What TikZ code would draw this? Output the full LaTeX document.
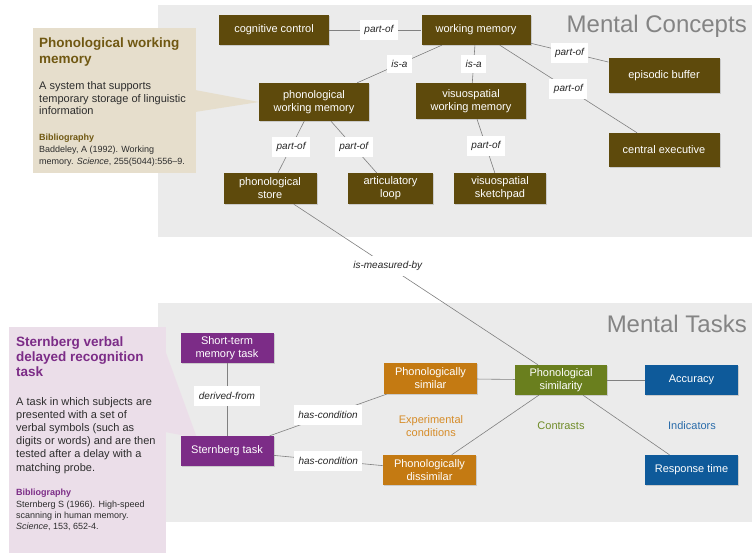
\documentclass[tikz,border=0pt]{standalone}
\usepackage{fontspec}
\setmainfont{Liberation Sans}
\usetikzlibrary{shadows}
\definecolor{panelc}{RGB}{235,235,235}
\definecolor{tanc}{RGB}{230,222,204}
\definecolor{pinkc}{RGB}{235,222,233}
\definecolor{conceptc}{RGB}{94,74,12}
\definecolor{taskc}{RGB}{124,44,135}
\definecolor{condc}{RGB}{196,122,18}
\definecolor{contrc}{RGB}{106,127,30}
\definecolor{indc}{RGB}{14,90,154}
\definecolor{linkc}{RGB}{128,128,128}
\definecolor{bodyc}{RGB}{45,45,45}
\definecolor{tantitle}{RGB}{112,88,18}
\definecolor{pinktitle}{RGB}{124,44,135}
\definecolor{condtext}{RGB}{214,140,40}
\definecolor{contrtext}{RGB}{112,140,40}
\definecolor{indtext}{RGB}{42,108,170}
\definecolor{headc}{RGB}{132,132,132}
\begin{document}
\begin{tikzpicture}[x=1pt,y=-1pt,
  sz/.style 2 args={minimum width=#1, minimum height=#2},
  box/.style={rectangle, inner sep=2pt, align=center, text=white,
    font=\fontsize{11}{13}\selectfont,
    drop shadow={shadow xshift=1pt, shadow yshift=-1.2pt, opacity=0.3}},
  concept/.style={box, fill=conceptc},
  taskbox/.style={box, fill=taskc},
  condbox/.style={box, fill=condc},
  contrbox/.style={box, fill=contrc},
  indbox/.style={box, fill=indc},
  lab/.style={fill=white, text=black!85, font=\fontsize{10}{12}\selectfont\itshape,
    inner xsep=4.5pt, inner ysep=0pt, minimum height=20pt},
  link/.style={draw=linkc, line width=0.6pt},
  ttl/.style={anchor=base west, inner sep=0pt, font=\fontsize{13.5}{16}\selectfont\bfseries},
  bodyt/.style={anchor=base west, inner sep=0pt, font=\fontsize{11}{13}\selectfont, text=bodyc},
  bibh/.style={anchor=base west, inner sep=0pt, font=\fontsize{9}{11}\selectfont\bfseries},
  cit/.style={anchor=base west, inner sep=0pt, font=\fontsize{9}{11}\selectfont, text=bodyc},
  grouplab/.style={align=center, inner sep=0pt, font=\fontsize{11}{13}\selectfont},
  heading/.style={anchor=base east, inner sep=0pt, font=\fontsize{24}{28}\selectfont, text=headc}]
\useasboundingbox (0,0) rectangle (752,553);
\fill[white] (0,0) rectangle (752,553);
% panels
\fill[panelc] (158,5) rectangle (752,237);
\fill[panelc] (158,303) rectangle (752,522);
% headings
\node[heading] (hc) at (747,33) {Mental Concepts};
\node[heading] (ht) at (747,332) {Mental Tasks};
% tan callout
\fill[tanc] (33,28) rectangle (196,173);
\fill[tanc] (195,90) -- (259,102) -- (195,112) -- cycle;
\node[ttl, text=tantitle] (ta1) at (39,47.5) {Phonological working};
\node[ttl, text=tantitle] (ta2) at (39,63.5) {memory};
\node[bodyt] (tb1) at (39,90) {A system that supports};
\node[bodyt] (tb2) at (39,102.5) {temporary storage of linguistic};
\node[bodyt] (tb3) at (39,115) {information};
\node[bibh, text=tantitle] (tbh) at (39,140.5) {Bibliography};
\node[cit] (tc1) at (39,152.5) {Baddeley, A (1992). Working};
\node[cit] (tc2) at (39,165) {memory. \textit{Science}, 255(5044):556–9.};
% pink callout
\fill[pinkc] (9,327) rectangle (166,553);
\fill[pinkc] (165,350) -- (197,438) -- (165,432) -- cycle;
\node[ttl, text=pinktitle] (pa1) at (16,346.5) {Sternberg verbal};
\node[ttl, text=pinktitle] (pa2) at (16,361.5) {delayed recognition};
\node[ttl, text=pinktitle] (pa3) at (16,376.5) {task};
\node[bodyt] (pb1) at (16,405) {A task in which subjects are};
\node[bodyt] (pb2) at (16,418.2) {presented with a set of};
\node[bodyt] (pb3) at (16,431.4) {verbal symbols (such as};
\node[bodyt] (pb4) at (16,444.6) {digits or words) and are then};
\node[bodyt] (pb5) at (16,457.8) {tested after a delay with a};
\node[bodyt] (pb6) at (16,471) {matching probe.};
\node[bibh, text=pinktitle] (pbh) at (16,495) {Bibliography};
\node[cit] (pc1) at (16,507) {Sternberg S (1966). High-speed};
\node[cit] (pc2) at (16,518) {scanning in human memory.};
\node[cit] (pc3) at (16,529) {\textit{Science}, 153, 652-4.};
% concept nodes
\node[concept, sz={110pt}{30pt}] (cc) at (274,30) {cognitive control};
\node[concept, sz={109pt}{30pt}] (wm) at (476,30) {working memory};
\node[concept, sz={110pt}{38pt}] (pwm) at (314,102) {phonological\\working memory};
\node[concept, sz={110pt}{36pt}] (vwm) at (471,101) {visuospatial\\working memory};
\node[concept, sz={111pt}{35pt}] (eb) at (664,75.5) {episodic buffer};
\node[concept, sz={111pt}{34pt}] (ce) at (664,150) {central executive};
\node[concept, sz={93pt}{31pt}] (ps) at (270,188.5) {phonological\\store};
\node[concept, sz={85pt}{31pt}] (al) at (390.5,188.5) {articulatory\\loop};
\node[concept, sz={92pt}{31pt}] (vs) at (500,188.5) {visuospatial\\sketchpad};
% task nodes
\node[taskbox, sz={93pt}{30pt}] (stm) at (227,348) {Short-term\\memory task};
\node[taskbox, sz={93pt}{30pt}] (st) at (227,451) {Sternberg task};
\node[condbox, sz={93pt}{31pt}] (psim) at (430.5,378.5) {Phonologically\\similar};
\node[condbox, sz={93pt}{30pt}] (pdis) at (429.5,470) {Phonologically\\dissimilar};
\node[contrbox, sz={92pt}{30pt}] (phs) at (561,380) {Phonological\\similarity};
\node[indbox, sz={93pt}{30pt}] (acc) at (691.5,380) {Accuracy};
\node[indbox, sz={93pt}{30pt}] (rt) at (691.5,470) {Response time};
% group labels
\node[grouplab, text=condtext] (gcond) at (431,426) {Experimental\\conditions};
\node[grouplab, text=contrtext] (gcontr) at (561,426) {Contrasts};
\node[grouplab, text=indtext] (gind) at (692,426) {Indicators};
% connectors
\draw[link] (cc) -- node[lab, pos=0.54] (l1) {part-of} (wm);
\draw[link] (wm) -- node[lab, minimum height=18pt] (l2) {is-a} (pwm);
\draw[link] (wm) -- node[lab, minimum height=18pt] (l3) {is-a} (vwm);
\draw[link] (wm) -- node[lab] (l4) {part-of} (eb);
\draw[link] (wm) -- node[lab] (l5) {part-of} (ce);
\draw[link] (pwm) -- node[lab] (l6) {part-of} (ps);
\draw[link] (pwm) -- node[lab] (l7) {part-of} (al);
\draw[link] (vwm) -- node[lab] (l8) {part-of} (vs);
\draw[link] (ps) -- node[lab, pos=0.385] (l9) {is-measured-by} (phs);
\draw[link] (stm) -- node[lab, pos=0.45] (l10) {derived-from} (st);
\draw[link] (st) -- node[lab] (l11) {has-condition} (psim);
\draw[link] (st) -- node[lab] (l12) {has-condition} (pdis);
\draw[link] (psim) -- (phs);
\draw[link] (pdis) -- (phs);
\draw[link] (phs) -- (acc);
\draw[link] (phs) -- (rt);
\end{tikzpicture}
\end{document}
